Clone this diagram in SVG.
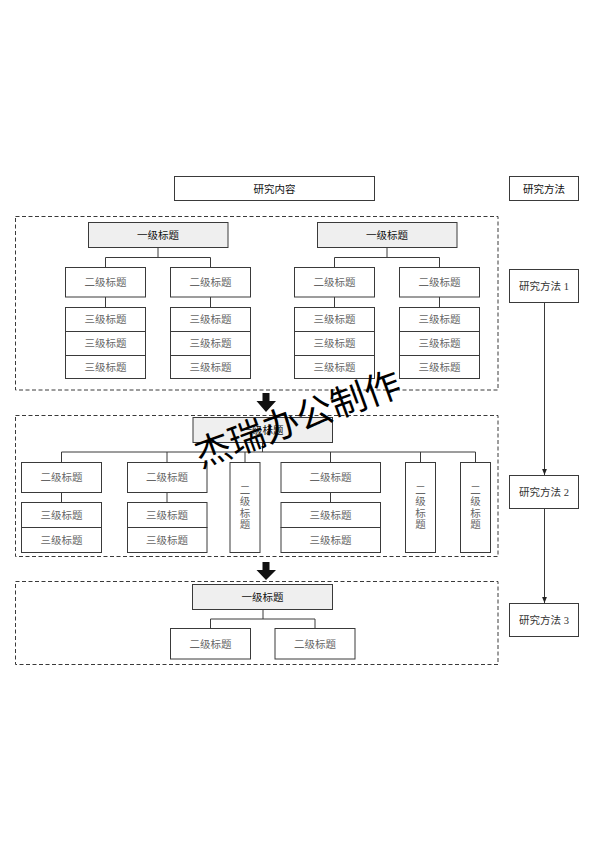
<svg xmlns="http://www.w3.org/2000/svg" width="594" height="841" viewBox="0 0 594 841">
<defs>
<style>
.bx{fill:#fff;stroke:#3a3a3a;stroke-width:1}
.h1{fill:#efefef;stroke:#3a3a3a;stroke-width:1}
.ds{fill:none;stroke:#3a3a3a;stroke-width:1;stroke-dasharray:4 2.5}
.ln{fill:none;stroke:#3a3a3a;stroke-width:1}
.t1{font-family:"Liberation Sans","Noto Sans CJK SC",sans-serif;font-size:10.5px;fill:#111;text-anchor:middle;dominant-baseline:central}
.t2{font-family:"Liberation Serif","Noto Sans CJK SC",serif;font-size:10.5px;fill:#666;text-anchor:middle;dominant-baseline:central}
.tm{font-family:"Liberation Serif","Noto Sans CJK SC",serif;font-size:10.5px;fill:#333;text-anchor:middle;dominant-baseline:central}
.wm{font-family:"Noto Sans CJK SC",sans-serif;font-size:36px;fill:#000;text-anchor:middle}
</style>
<marker id="ah" viewBox="0 0 10 10" refX="10" refY="5" markerWidth="6" markerHeight="6" orient="auto">
<path d="M0,1 L10,5 L0,9 z" fill="#222"/>
</marker>
</defs>
<rect width="594" height="841" fill="#fff"/>

<g id="header-content"><rect class="bx" x="174.5" y="176.5" width="200" height="24"/><text class="t1" x="274.5" y="188.5">研究内容</text></g>
<g id="header-method"><rect class="bx" x="509.5" y="176.5" width="69" height="24"/><text class="t1" x="544" y="188.5">研究方法</text></g>

<g id="section1">
<rect class="ds" x="15.5" y="216.5" width="482.5" height="173.5"/>
</g>
<g id="section2">
<rect class="ds" x="15.5" y="415.5" width="482.5" height="141"/>
</g>
<g id="section3">
<rect class="ds" x="15.5" y="581.5" width="482.5" height="83"/>
</g>

<g id="connectors">
<!-- section 1 left -->
<path class="ln" d="M158,247.5 V257.5 M105.5,267 V257.5 H210.5 V267 M105.5,297 V307 M210.5,297 V307"/>
<!-- section 1 right -->
<path class="ln" d="M387,247.5 V257.5 M334.5,267 V257.5 H439.5 V267 M334.5,297 V307 M439.5,297 V307"/>
<!-- section 2 -->
<path class="ln" d="M262.5,442.5 V452 M61.5,462.5 V452 H475.5 V462.5 M167,452 V462.5 M245,452 V462.5 M330.5,452 V462.5 M420.5,452 V462.5 M61.5,492.5 V502.5 M167,492.5 V502.5 M330.5,492.5 V502.5"/>
<!-- section 3 -->
<path class="ln" d="M263,609.5 V619 M210.5,628.5 V619 H315 V628.5"/>
<!-- methods -->
<path class="ln" d="M544.5,303 V475" marker-end="url(#ah)"/>
<path class="ln" d="M544.5,508.5 V603" marker-end="url(#ah)"/>
<!-- big arrows -->
<path d="M262.5,393 H269.5 V401 H276 L266,412 L256.5,401 H262.5 Z" fill="#111"/>
<path d="M262.5,562 H269.5 V570 H276 L266,580 L256.5,570 H262.5 Z" fill="#111"/>
</g>

<!-- section 1 nodes -->
<g id="s1-h1-left"><rect class="h1" x="88.5" y="222.5" width="139.5" height="25"/><text class="t1" x="158" y="235">一级标题</text></g>
<g id="s1-h1-right"><rect class="h1" x="317.5" y="222.5" width="139.5" height="25"/><text class="t1" x="387" y="235">一级标题</text></g>
<g id="s1-h2-a"><rect class="bx" x="65.5" y="267.5" width="80" height="29.5"/><text class="t2" x="105.5" y="282">二级标题</text></g>
<g id="s1-h2-b"><rect class="bx" x="170.5" y="267.5" width="80" height="29.5"/><text class="t2" x="210.5" y="282">二级标题</text></g>
<g id="s1-h2-c"><rect class="bx" x="294.5" y="267.5" width="80" height="29.5"/><text class="t2" x="334.5" y="282">二级标题</text></g>
<g id="s1-h2-d"><rect class="bx" x="399.5" y="267.5" width="80" height="29.5"/><text class="t2" x="439.5" y="282">二级标题</text></g>
<g id="s1-h3-a">
<rect class="bx" x="65.5" y="307.5" width="80" height="24"/><text class="t2" x="105.5" y="319.5">三级标题</text>
<rect class="bx" x="65.5" y="331.5" width="80" height="24"/><text class="t2" x="105.5" y="343.5">三级标题</text>
<rect class="bx" x="65.5" y="355.5" width="80" height="23"/><text class="t2" x="105.5" y="367">三级标题</text>
</g>
<g id="s1-h3-b">
<rect class="bx" x="170.5" y="307.5" width="80" height="24"/><text class="t2" x="210.5" y="319.5">三级标题</text>
<rect class="bx" x="170.5" y="331.5" width="80" height="24"/><text class="t2" x="210.5" y="343.5">三级标题</text>
<rect class="bx" x="170.5" y="355.5" width="80" height="23"/><text class="t2" x="210.5" y="367">三级标题</text>
</g>
<g id="s1-h3-c">
<rect class="bx" x="294.5" y="307.5" width="80" height="24"/><text class="t2" x="334.5" y="319.5">三级标题</text>
<rect class="bx" x="294.5" y="331.5" width="80" height="24"/><text class="t2" x="334.5" y="343.5">三级标题</text>
<rect class="bx" x="294.5" y="355.5" width="80" height="23"/><text class="t2" x="334.5" y="367">三级标题</text>
</g>
<g id="s1-h3-d">
<rect class="bx" x="399.5" y="307.5" width="80" height="24"/><text class="t2" x="439.5" y="319.5">三级标题</text>
<rect class="bx" x="399.5" y="331.5" width="80" height="24"/><text class="t2" x="439.5" y="343.5">三级标题</text>
<rect class="bx" x="399.5" y="355.5" width="80" height="23"/><text class="t2" x="439.5" y="367">三级标题</text>
</g>

<!-- section 2 nodes -->
<g id="s2-h1"><rect class="h1" x="193" y="417.5" width="139.5" height="25"/><text class="t1" x="262.5" y="430">一级标题</text></g>
<g id="s2-h2-a"><rect class="bx" x="21.5" y="462.5" width="80" height="30"/><text class="t2" x="61.5" y="477.5">二级标题</text></g>
<g id="s2-h2-b"><rect class="bx" x="127.5" y="462.5" width="79.5" height="30"/><text class="t2" x="167" y="477.5">二级标题</text></g>
<g id="s2-h2-c"><rect class="bx" x="230" y="462.5" width="30" height="90"/>
<text class="t2" x="245" y="490">二</text><text class="t2" x="245" y="501.5">级</text><text class="t2" x="245" y="513">标</text><text class="t2" x="245" y="524.5">题</text></g>
<g id="s2-h2-d"><rect class="bx" x="281" y="462.5" width="99.5" height="30"/><text class="t2" x="330.5" y="477.5">二级标题</text></g>
<g id="s2-h2-e"><rect class="bx" x="405.5" y="462.5" width="30" height="90"/>
<text class="t2" x="420.5" y="490">二</text><text class="t2" x="420.5" y="501.5">级</text><text class="t2" x="420.5" y="513">标</text><text class="t2" x="420.5" y="524.5">题</text></g>
<g id="s2-h2-f"><rect class="bx" x="460.5" y="462.5" width="30" height="90"/>
<text class="t2" x="475.5" y="490">二</text><text class="t2" x="475.5" y="501.5">级</text><text class="t2" x="475.5" y="513">标</text><text class="t2" x="475.5" y="524.5">题</text></g>
<g id="s2-h3-a">
<rect class="bx" x="21.5" y="502.5" width="80" height="25"/><text class="t2" x="61.5" y="515">三级标题</text>
<rect class="bx" x="21.5" y="527.5" width="80" height="25"/><text class="t2" x="61.5" y="540">三级标题</text>
</g>
<g id="s2-h3-b">
<rect class="bx" x="127.5" y="502.5" width="79.5" height="25"/><text class="t2" x="167" y="515">三级标题</text>
<rect class="bx" x="127.5" y="527.5" width="79.5" height="25"/><text class="t2" x="167" y="540">三级标题</text>
</g>
<g id="s2-h3-d">
<rect class="bx" x="281" y="502.5" width="99.5" height="25"/><text class="t2" x="330.5" y="515">三级标题</text>
<rect class="bx" x="281" y="527.5" width="99.5" height="25"/><text class="t2" x="330.5" y="540">三级标题</text>
</g>

<!-- section 3 nodes -->
<g id="s3-h1"><rect class="h1" x="192.5" y="584.5" width="140" height="25"/><text class="t1" x="262.5" y="597">一级标题</text></g>
<g id="s3-h2-a"><rect class="bx" x="170.5" y="628.5" width="80" height="30.5"/><text class="t2" x="210.5" y="644">二级标题</text></g>
<g id="s3-h2-b"><rect class="bx" x="275" y="628.5" width="80" height="30.5"/><text class="t2" x="315" y="644">二级标题</text></g>

<!-- methods -->
<g id="method1"><rect class="bx" x="509.5" y="269.5" width="69" height="33"/><text class="tm" x="544" y="286">研究方法 1</text></g>
<g id="method2"><rect class="bx" x="509.5" y="475.5" width="69" height="33"/><text class="tm" x="544" y="492">研究方法 2</text></g>
<g id="method3"><rect class="bx" x="509.5" y="603.5" width="69" height="33"/><text class="tm" x="544" y="620">研究方法 3</text></g>

<g id="watermark"><text class="wm" x="302" y="431" transform="rotate(-20 302 431)">杰瑞办公制作</text></g>
</svg>
